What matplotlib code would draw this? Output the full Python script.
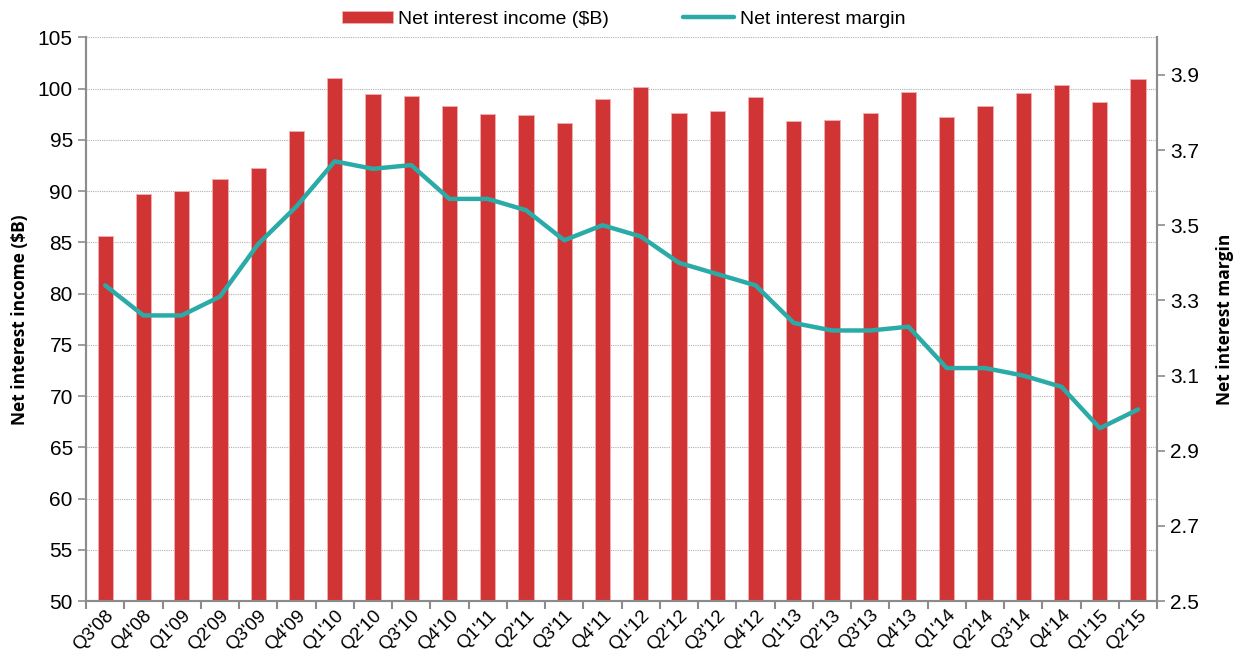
import matplotlib.pyplot as plt
import numpy as np

quarters = ["Q3'08", "Q4'08", "Q1'09", "Q2'09", "Q3'09", "Q4'09", "Q1'10", "Q2'10",
            "Q3'10", "Q4'10", "Q1'11", "Q2'11", "Q3'11", "Q4'11", "Q1'12", "Q2'12",
            "Q3'12", "Q4'12", "Q1'13", "Q2'13", "Q3'13", "Q4'13", "Q1'14", "Q2'14",
            "Q3'14", "Q4'14", "Q1'15", "Q2'15"]
nii = [85.6, 89.7, 90.0, 91.2, 92.2, 95.9, 101.0, 99.5, 99.3, 98.3, 97.5, 97.4, 96.6, 99.0,
       100.1, 97.6, 97.8, 99.2, 96.8, 96.9, 97.6, 99.7, 97.2, 98.3, 99.6, 100.3, 98.7, 100.9]
nim = [3.34, 3.26, 3.26, 3.31, 3.45, 3.55, 3.67, 3.65, 3.66, 3.57, 3.57, 3.54, 3.46, 3.50,
       3.47, 3.40, 3.37, 3.34, 3.24, 3.22, 3.22, 3.23, 3.12, 3.12, 3.10, 3.07, 2.96, 3.01]

plt.rcParams['font.family'] = ['Liberation Sans', 'DejaVu Sans']

barColor = '#D03434'
lineColor = '#2BABA8'
spineColor = '#8C8C8C'

fig = plt.figure(figsize=(12.47, 6.65), dpi=100)
ax = fig.add_axes([0.069, 0.096, 0.859, 0.848])
ax2 = ax.twinx()

x = np.arange(len(quarters))
bars = ax.bar(x, nii, width=0.4, color=barColor, edgecolor='#F0B0B0', linewidth=0.6,
              zorder=2, label='Net interest income ($B)')
line, = ax2.plot(x, nim, color=lineColor, linewidth=3.2, solid_capstyle='round',
                 label='Net interest margin', zorder=3)

ax.set_xlim(-0.5, len(quarters) - 0.5)
ax.set_ylim(50, 105)
ax.set_yticks(np.arange(50, 106, 5))
ax2.set_ylim(2.5, 4.0)
ax2.set_yticks(np.arange(2.5, 3.95, 0.2))
ax2.set_yticklabels(['{:.1f}'.format(v) for v in np.arange(2.5, 3.95, 0.2)])

ax.yaxis.grid(True, color='#B0B0B0', linestyle=(0, (1, 1)), linewidth=0.8, zorder=0)
ax.set_axisbelow(True)

# category ticks sit between the bars
ax.set_xticks(np.arange(-0.5, len(quarters), 1.0))
ax.set_xticklabels([])
ax.set_xticks(x, minor=True)
ax.set_xticklabels(quarters, minor=True, rotation=45, ha='right', rotation_mode='anchor',
                   fontsize=13.5)
ax.tick_params(axis='x', which='minor', length=0, pad=4)
ax.tick_params(axis='x', which='major', length=6, color=spineColor, width=1.5, direction='out')
ax.tick_params(axis='y', labelsize=15, length=6, color=spineColor, width=1.2)
ax2.tick_params(axis='y', labelsize=15, length=6, color=spineColor, width=1.2)

for a in (ax, ax2):
  a.spines['top'].set_visible(False)
  for s in ('left', 'right', 'bottom'):
    a.spines[s].set_color(spineColor)
    a.spines[s].set_linewidth(1.5)

ax.set_ylabel('Net interest income ($B)', fontsize=12.5, fontweight='bold',
              family=['Open Sans', 'DejaVu Sans'], labelpad=6)
ax2.set_ylabel('Net interest margin', fontsize=12.5, fontweight='bold',
               family=['Open Sans', 'DejaVu Sans'], labelpad=12)

leg = fig.legend([bars, line], ['Net interest income ($B)', 'Net interest margin'],
                 loc='upper center', bbox_to_anchor=(0.5, 1.01), ncol=2, frameon=False,
                 fontsize=14, handlelength=2.6, handleheight=0.6, columnspacing=3.8,
                 handletextpad=0.3)

fig.savefig('out.png', dpi=100)
